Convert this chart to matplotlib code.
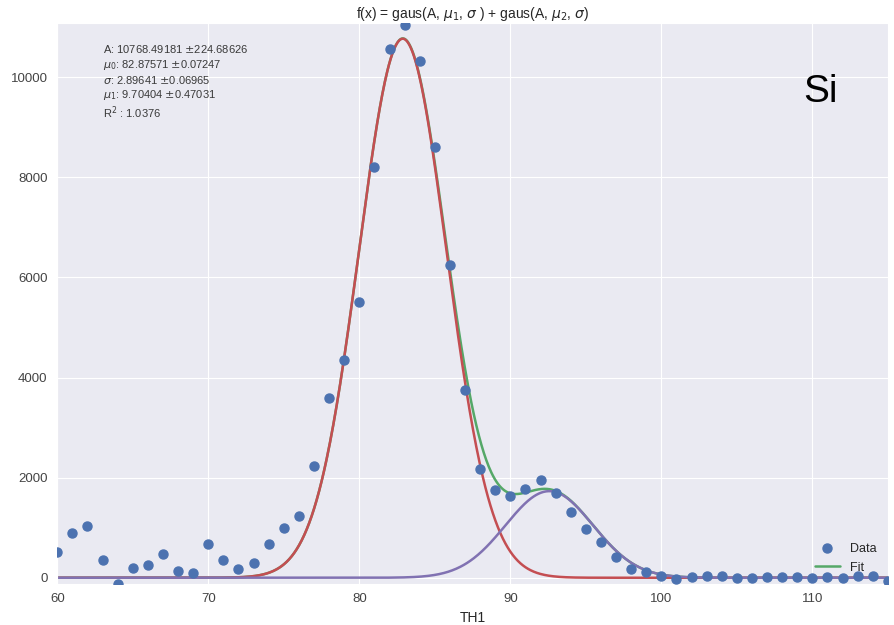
import numpy as np
import seaborn as sns
from matplotlib import pyplot as plt

sns.set_style("darkgrid")
plt.rcParams["font.family"] = ["Liberation Sans", "DejaVu Sans"]

# measured counts per TH1 bin
th1 = np.arange(60, 116)
counts = [520, 900, 1025, 345, -120, 186, 260, 473, 133, 93,
          680, 345, 180, 300, 680, 1000, 1225, 2230, 3593, 4345,
          5503, 8197, 10565, 11044, 10325, 8609, 6248, 3752, 2176, 1756,
          1643, 1776, 1943, 1690, 1317, 978, 719, 406, 180, 106,
          40, -30, 10, 40, 25, -15, -10, 15, 5, 15,
          -10, 5, -5, 25, 25, -60]

# fit results
A = 10768.49181
A_err = 224.68626
mu0 = 82.87571
mu0_err = 0.07247
sigma = 2.89641
sigma_err = 0.06965
mu1 = 9.70404
mu1_err = 0.47031
r2 = 1.0376
A2 = 1730.0


def gaus(x, a, mu, s):
    return a * np.exp(-(x - mu) ** 2 / (2 * s ** 2))


xs = np.linspace(60, 115, 1000)
peak1 = gaus(xs, A, mu0, sigma)
peak2 = gaus(xs, A2, mu0 + mu1, sigma)

fig = plt.figure(figsize=(8.95, 6.25), dpi=100)
ax = fig.add_axes([0.064, 0.066, 0.928, 0.897])

ax.plot(th1, counts, "o", color="#4C72B0", markersize=6.5, label="Data", zorder=4)
ax.plot(xs, peak1 + peak2, color="#55A868", lw=1.8, label="Fit")
ax.plot(xs, peak1, color="#C44E52", lw=1.8)
ax.plot(xs, peak2, color="#8172B2", lw=1.8)

ax.set_xlim(60, 115)
ax.set_ylim(-120, 11080)
ax.set_xticks([60, 70, 80, 90, 100, 110])
ax.set_yticks([0, 2000, 4000, 6000, 8000, 10000])
ax.tick_params(labelsize=9.5, colors="#444444")

ax.set_title(r"f(x) = gaus(A, $\mu_1$, $\sigma$ ) + gaus(A, $\mu_2$, $\sigma$)",
             fontsize=10, color="#262626", pad=4)
ax.set_xlabel("TH1", fontsize=10, color="#262626", labelpad=4)

lines = [
    r"A: %.5f $\pm$%.5f" % (A, A_err),
    r"$\mu_0$: %.5f $\pm$%.5f" % (mu0, mu0_err),
    r"$\sigma$: %.5f $\pm$%.5f" % (sigma, sigma_err),
    r"$\mu_1$: %.5f $\pm$%.5f" % (mu1, mu1_err),
    r"R$^2$ : %.4f" % r2,
]
ys = [0.953, 0.926, 0.899, 0.872, 0.840]
for txt, y in zip(lines, ys):
    ax.text(0.055, y, txt, transform=ax.transAxes, fontsize=8,
            color="#3a3a3a", va="center")

ax.text(0.898, 0.86, "Si", transform=ax.transAxes, fontsize=28,
        color="black", va="baseline")

ax.legend(loc="lower right", frameon=False, fontsize=9,
          bbox_to_anchor=(1.0, -0.002), handletextpad=0.8,
          borderaxespad=0.5)

fig.savefig("out.png", dpi=100)
